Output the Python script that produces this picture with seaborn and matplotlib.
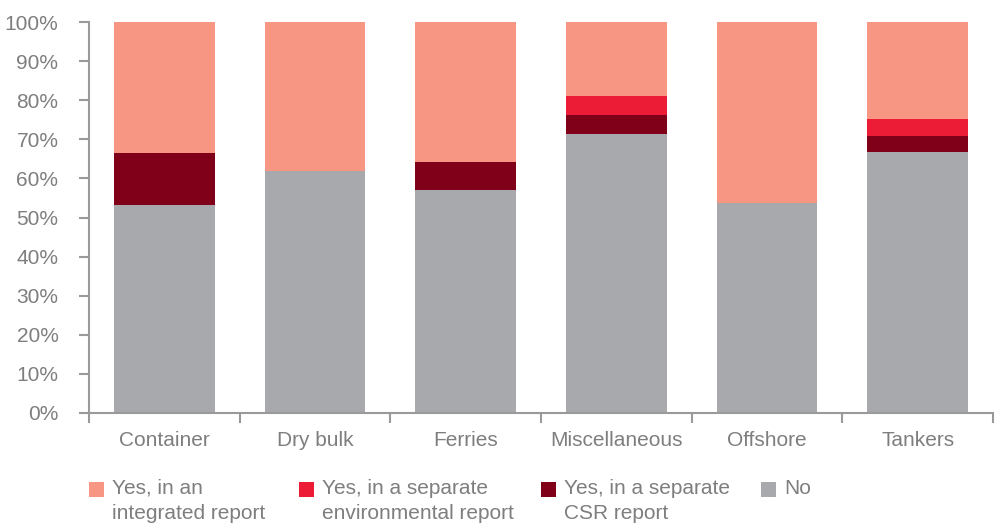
import matplotlib
matplotlib.use("Agg")
import matplotlib.pyplot as plt
from matplotlib.patches import Rectangle
from matplotlib.ticker import FuncFormatter, FixedLocator
import numpy as np
import pandas as pd
import seaborn as sns

# Share of companies reporting, by shipping segment (%)
categories = ["Container", "Dry bulk", "Ferries", "Miscellaneous", "Offshore", "Tankers"]
no_report = [53.3, 62.0, 57.1, 71.4, 53.8, 66.7]
csr_report = [13.3, 0.0, 7.1, 4.8, 0.0, 4.2]
env_report = [0.0, 0.0, 0.0, 4.8, 0.0, 4.2]
integrated_report = [33.4, 38.0, 35.8, 19.0, 46.2, 24.9]

series_labels = ["Yes, in an\nintegrated report",
                 "Yes, in a separate\nenvironmental report",
                 "Yes, in a separate\nCSR report",
                 "No"]
colors = ["#F69683", "#ED1C36", "#800019", "#A8A9AC"]
text_color = "#7E7E7E"
axis_color = "#9A9A9A"

sns.set_theme(style="white")
plt.rcParams["font.family"] = ["Liberation Sans", "DejaVu Sans"]

df = pd.DataFrame({
    "segment": categories,
    "no": no_report,
    "csr": csr_report,
    "env": env_report,
    "integrated": integrated_report,
})
# cumulative tops, drawn from the tallest layer down so each stacks visually
df["top_no"] = df["no"]
df["top_csr"] = df["top_no"] + df["csr"]
df["top_env"] = df["top_csr"] + df["env"]
df["top_integrated"] = df["top_env"] + df["integrated"]

fig = plt.figure(figsize=(10, 5.26), dpi=100)
ax = fig.add_axes([0.089, 0.215, 0.904, 0.743])

layers = [("top_integrated", colors[0]), ("top_env", colors[1]),
          ("top_csr", colors[2]), ("top_no", colors[3])]
for col, c in layers:
    sns.barplot(data=df, x="segment", y=col, color=c, width=0.67,
                saturation=1, ax=ax, linewidth=0, edgecolor="none")

ax.set_xlim(-0.5, len(categories) - 0.5)
ax.set_ylim(0, 100)
ax.set_xlabel("")
ax.set_ylabel("")

ax.yaxis.set_major_locator(FixedLocator(np.arange(0, 101, 10)))
ax.yaxis.set_major_formatter(FuncFormatter(lambda v, p: f"{int(v)}%"))

# category ticks sit at the boundaries between bars
ax.set_xticks(np.arange(-0.5, len(categories), 1.0), minor=False)
ax.set_xticklabels([""] * (len(categories) + 1))
ax.set_xticks(np.arange(len(categories)), minor=True)
ax.set_xticklabels(categories, minor=True)
ax.tick_params(axis="x", which="minor", length=0, pad=13,
               labelsize=15, labelcolor=text_color)
ax.tick_params(axis="x", which="major", length=7, width=1.5,
               color=axis_color, direction="out")
ax.tick_params(axis="y", length=7, width=1.5, color=axis_color,
               direction="out", labelsize=15, labelcolor=text_color, pad=15)
ax.tick_params(left=True, bottom=True, which="both")
ax.xaxis.set_tick_params(which="minor", bottom=False)

for side in ["top", "right"]:
    ax.spines[side].set_visible(False)
for side in ["left", "bottom"]:
    ax.spines[side].set_color(axis_color)
    ax.spines[side].set_linewidth(1.5)

# legend: square swatch aligned with the first line of each label
W, H = fig.get_size_inches() * fig.dpi
swatch_x = [89, 299, 541, 761]
for x0, lab, c in zip(swatch_x, series_labels, colors):
    fig.add_artist(Rectangle((x0 / W, 1 - 497 / H), 15 / W, 15 / H,
                             transform=fig.transFigure, color=c, lw=0))
    fig.text((x0 + 23) / W, 1 - 479 / H, lab, ha="left", va="top",
             fontsize=15, color=text_color, linespacing=1.38)

fig.savefig("out.png", dpi=100)
